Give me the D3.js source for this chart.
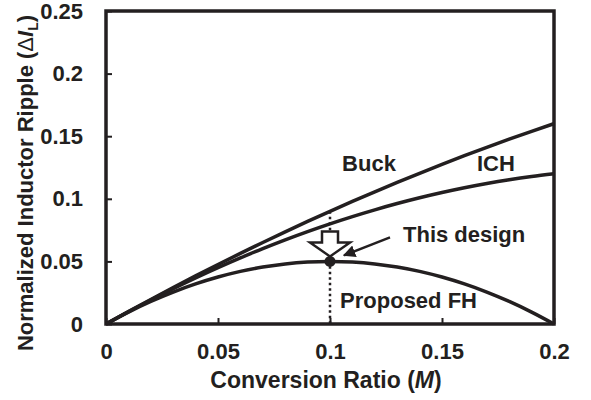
<!DOCTYPE html>
<html>
<head>
<meta charset="utf-8">
<script src="https://cdn.jsdelivr.net/npm/d3@7"></script>
<style>
  body { margin: 0; background: #fff; }
  text { font-family: "Liberation Sans", Arial, sans-serif; font-weight: bold; fill: #231f20; }
</style>
</head>
<body>
<div id="chart"></div>
<script>
// conversion ratio samples
const ratios = [0, 0.01, 0.02, 0.03, 0.04, 0.05, 0.06, 0.07, 0.08, 0.09, 0.1,
  0.11, 0.12, 0.13, 0.14, 0.15, 0.16, 0.17, 0.18, 0.19, 0.2];
// normalized ripple of each topology
const buck = [0, 0.0099, 0.0196, 0.0291, 0.0384, 0.0475, 0.0564, 0.0651, 0.0736, 0.0819, 0.09,
  0.0979, 0.1056, 0.1131, 0.1204, 0.1275, 0.1344, 0.1411, 0.1476, 0.1539, 0.16];
const ich = [0, 0.0098, 0.0192, 0.0282, 0.0368, 0.045, 0.0528, 0.0602, 0.0672, 0.0738, 0.08,
  0.0858, 0.0912, 0.0962, 0.1008, 0.105, 0.1088, 0.1122, 0.1152, 0.1178, 0.12];
const proposedFH = [0, 0.0095, 0.018, 0.0255, 0.032, 0.0375, 0.042, 0.0455, 0.048, 0.0495, 0.05,
  0.0495, 0.048, 0.0455, 0.042, 0.0375, 0.032, 0.0255, 0.018, 0.0095, 0];
const xTicks = [0, 0.05, 0.1, 0.15, 0.2];
const yTicks = [0, 0.05, 0.1, 0.15, 0.2, 0.25];
// design point
const designM = 0.1, designRipple = 0.05, buckAtDesign = 0.09;

const margin = { top: 11, right: 37, bottom: 76, left: 106 },
  width = 591 - margin.left - margin.right,
  height = 400 - margin.top - margin.bottom;

const svg = d3.select("#chart")
  .append("svg")
  .attr("width", 591)
  .attr("height", 400)
  .append("g")
  .attr("transform", `translate(${margin.left},${margin.top})`);

const x = d3.scaleLinear().domain([0, 0.2]).range([0, width]);
const y = d3.scaleLinear().domain([0, 0.25]).range([height, 0]);

const ink = "#231f20";

// ticks pointing inward
const xAxis = svg.append("g")
  .attr("transform", `translate(0,${height})`)
  .call(d3.axisBottom(x).tickValues(xTicks).tickSize(-6).tickPadding(19).tickFormat(d3.format("")));
const yAxis = svg.append("g")
  .call(d3.axisLeft(y).tickValues(yTicks).tickSize(-6).tickPadding(23).tickFormat(d3.format("")));
[xAxis, yAxis].forEach(a => {
  a.select(".domain").remove();
  a.selectAll("line").attr("stroke", ink).attr("stroke-width", 2);
  a.selectAll("text").style("font-size", "22px").attr("fill", ink);
});

// plot frame
svg.append("rect")
  .attr("width", width).attr("height", height)
  .attr("fill", "none").attr("stroke", ink).attr("stroke-width", 3.5);

// dotted guide at the design point
svg.append("line")
  .attr("x1", x(designM)).attr("x2", x(designM))
  .attr("y1", y(buckAtDesign)).attr("y2", y(0))
  .attr("stroke", ink).attr("stroke-width", 2.5).attr("stroke-dasharray", "2.5,3");

const line = d3.line().x((d, i) => x(ratios[i])).y(d => y(d)).curve(d3.curveMonotoneX);
[buck, ich, proposedFH].forEach(s => {
  svg.append("path").attr("d", line(s))
    .attr("fill", "none").attr("stroke", ink).attr("stroke-width", 3.5);
});

// hollow down arrow above the design point
const ax = x(designM), ay = y(designRipple);
svg.append("path")
  .attr("d", `M${ax - 8},${ay - 30} L${ax + 8},${ay - 30} L${ax + 8},${ay - 19} L${ax + 20},${ay - 19}
    L${ax},${ay - 5} L${ax - 20},${ay - 19} L${ax - 8},${ay - 19} Z`)
  .attr("fill", "#fff").attr("stroke", ink).attr("stroke-width", 2.5);

svg.append("circle").attr("cx", ax).attr("cy", ay).attr("r", 5.5).attr("fill", ink);

// pointer from label
svg.append("defs").append("marker")
  .attr("id", "head").attr("viewBox", "0 0 10 10").attr("refX", 9).attr("refY", 5)
  .attr("markerWidth", 5).attr("markerHeight", 5).attr("orient", "auto")
  .append("path").attr("d", "M0,0 L10,5 L0,10 Z").attr("fill", ink);
svg.append("line")
  .attr("x1", ax + 60).attr("y1", ay - 24)
  .attr("x2", ax + 14).attr("y2", ay - 6)
  .attr("stroke", ink).attr("stroke-width", 2.5).attr("marker-end", "url(#head)");

// curve labels
const labels = [
  { t: "Buck", m: 0.1054, v: 0.122 },
  { t: "ICH", m: 0.1656, v: 0.122 },
  { t: "This design", m: 0.1326, v: 0.0655 },
  { t: "Proposed FH", m: 0.1045, v: 0.0125 }
];
svg.selectAll("text.lab").data(labels).join("text")
  .attr("class", "lab")
  .attr("x", d => x(d.m)).attr("y", d => y(d.v))
  .style("font-size", "22px")
  .text(d => d.t);

// axis titles
svg.append("text")
  .attr("x", 220).attr("y", height + 64)
  .attr("text-anchor", "middle").style("font-size", "23px")
  .html('Conversion Ratio (<tspan font-style="italic">M</tspan>)');

svg.append("text")
  .attr("transform", `translate(${-73},${172}) rotate(-90)`)
  .attr("text-anchor", "middle").style("font-size", "22px")
  .html('Normalized Inductor Ripple (<tspan font-weight="normal">Δ</tspan><tspan font-style="italic">I</tspan><tspan font-size="14px" dy="5">L</tspan><tspan dy="-5">)</tspan>');
</script>
</body>
</html>
